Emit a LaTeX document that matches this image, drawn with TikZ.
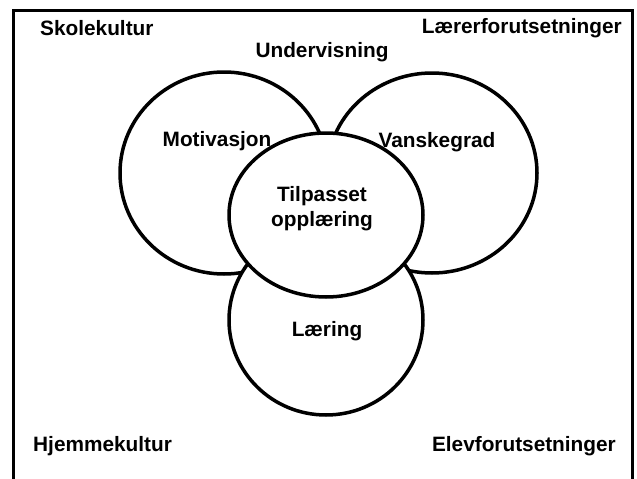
\documentclass[tikz,border=0pt]{standalone}
\usepackage{fontspec}
\setmainfont{Liberation Sans}
\usetikzlibrary{shapes.geometric}
\tikzset{ring/.style={ellipse, draw, line width=3.5pt, fill=white, inner sep=0pt},
         lbl/.style={font=\fontsize{20.8}{25}\selectfont\bfseries, inner sep=0pt, align=center}}

\begin{document}
\begin{tikzpicture}[x=1pt,y=-1pt]
                \useasboundingbox (0,0) rectangle (637,479);
                \draw[line width=3pt] (13,479) -- (13,10) -- (632,10) -- (632,479);
                \node (motiv)   [ring, minimum width=208pt, minimum height=202pt] at (224,173) {};
                \node (vansk)   [ring, minimum width=210pt, minimum height=200pt] at (432,173) {};
                \node (laering) [ring, minimum width=194pt, minimum height=190pt] at (326,320) {};
                \node (tilp)    [ring, minimum width=194pt, minimum height=164pt] at (326,215) {};
                \node (skole)  [lbl, anchor=west] at (40,28)  {Skolekultur};
                \node (laerer) [lbl, anchor=east] at (622,28) {Lærerforutsetninger};
                \node (underv) [lbl] at (322,52) {Undervisning};
                \node [lbl] at (217,141) {Motivasjon};
                \node [lbl] at (437,142) {Vanskegrad};
                \node [lbl] at (322,209) {Tilpasset\\opplæring};
                \node [lbl] at (327,331) {Læring};
                \node (hjem) [lbl, anchor=west] at (33,446)  {Hjemmekultur};
                \node (elev) [lbl, anchor=east] at (616,446) {Elevforutsetninger};
              \end{tikzpicture}
\end{document}
